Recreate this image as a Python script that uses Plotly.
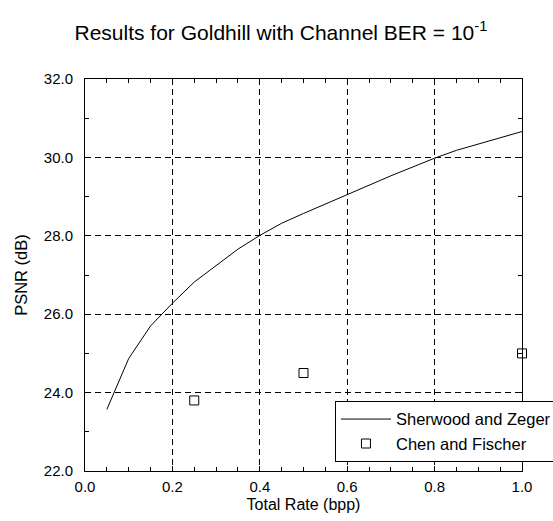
import plotly.graph_objects as go

# Sherwood and Zeger curve
sz_rate = [0.05, 0.10, 0.15, 0.20, 0.25, 0.30, 0.35, 0.40, 0.45, 0.50, 0.60, 0.70, 0.80, 0.85, 1.00]
sz_psnr = [23.57, 24.87, 25.70, 26.28, 26.82, 27.25, 27.66, 28.01, 28.32, 28.57, 29.06, 29.53, 29.98, 30.18, 30.66]

# Chen and Fischer points
cf_rate = [0.25, 0.50, 1.00]
cf_psnr = [23.8, 24.5, 25.0]

x_ticks = [0.0, 0.2, 0.4, 0.6, 0.8, 1.0]
y_ticks = [22.0, 24.0, 26.0, 28.0, 30.0, 32.0]

FONT = "Liberation Sans, Arial, sans-serif"

fig = go.Figure()
fig.add_trace(go.Scatter(
    x=sz_rate, y=sz_psnr, mode="lines", name="Sherwood and Zeger",
    line=dict(color="black", width=1)))
fig.add_trace(go.Scatter(
    x=cf_rate, y=cf_psnr, mode="markers", name="Chen and Fischer", cliponaxis=False,
    marker=dict(symbol="square-open", size=9, color="black", line=dict(width=1, color="black"))))

axis_common = dict(
    showline=True, linecolor="black", linewidth=1, mirror="allticks",
    ticks="inside", ticklen=5, tickcolor="black",
    showgrid=True, gridcolor="black", gridwidth=1, griddash="6px,4px",
    zeroline=False, tickfont=dict(size=15, color="black", family=FONT),
    tickformat=".1f", automargin=False,
)

fig.update_xaxes(
    range=[0, 1.0], tickvals=x_ticks, ticklabelstandoff=2,
    title=dict(text="Total Rate (bpp)", font=dict(size=16, color="black", family=FONT), standoff=4),
    minor=dict(dtick=0.05, tick0=0, ticks="inside", ticklen=4, tickcolor="black", showgrid=False),
    **axis_common)
fig.update_yaxes(
    range=[22, 32], tickvals=y_ticks, ticklabelstandoff=8,
    title=dict(text="PSNR (dB)", font=dict(size=16.5, color="black", family=FONT), standoff=12),
    minor=dict(dtick=1, tick0=22, ticks="inside", ticklen=4, tickcolor="black", showgrid=False),
    **axis_common)

fig.update_layout(
    width=553, height=521,
    margin=dict(l=85, r=31, t=79, b=50, autoexpand=False),
    paper_bgcolor="white", plot_bgcolor="white",
    font=dict(family=FONT, color="black"),
    title=dict(text="Results for Goldhill with Channel BER = 10<sup>-1</sup>",
               x=0.508, xanchor="center", y=0.937, yanchor="middle",
               font=dict(size=21, color="black", family=FONT)),
    legend=dict(x=0.572, y=0.179, xanchor="left", yanchor="top",
                bgcolor="white", bordercolor="black", borderwidth=1,
                font=dict(size=16.5, color="black", family=FONT),
                tracegroupgap=0, itemwidth=50),
    showlegend=True,
)

fig.write_html("out.html")
